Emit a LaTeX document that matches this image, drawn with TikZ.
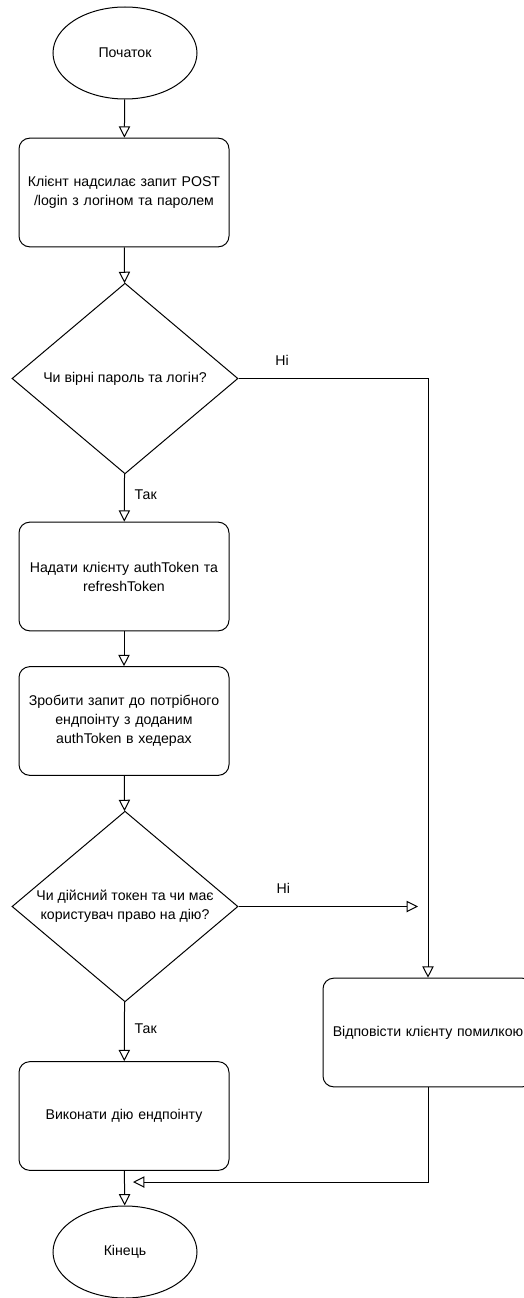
\documentclass[tikz,border=0pt]{standalone}
\usepackage{fontspec}
\setmainfont{Liberation Sans}
\usetikzlibrary{arrows.meta,shapes.geometric}
\begin{document}
\begin{tikzpicture}[x=0.75pt,y=-0.75pt,
  line width=0.75pt,
  every node/.style={font=\fontsize{10.6}{14.2}\selectfont},
  terminal/.style={draw,ellipse,minimum width=108pt,minimum height=69pt,inner sep=0pt},
  process/.style={draw,rounded corners=8pt,minimum width=157.5pt,minimum height=81.5pt,align=center,text width=155pt,inner sep=0pt},
  decision/.style={draw,diamond,minimum width=169.5pt,minimum height=143pt,aspect=1.18,align=center,inner sep=0pt},
  flow/.style={-{Triangle[open,length=8.5pt,width=8.5pt]}},
  lbl/.style={font=\fontsize{10.6}{13}\selectfont}]
  \useasboundingbox (0,0) rectangle (524,1298);
  \clip (0,0) rectangle (524,1298);

  % nodes
  \node[terminal] (start) at (125,53) {Початок};
  \node[process] (login) at (124,192.5) {Клієнт надсилає запит POST\\/login з логіном та паролем};
  \node[decision] (check) at (125,378.5) {Чи вірні пароль та логін?};
  \node[process] (issue) at (124,576.5) {Надати клієнту authToken та\\refreshToken};
  \node[process] (request) at (124,721) {Зробити запит до потрібного\\ендпоінту з доданим\\authToken в хедерах};
  \node[decision] (valid) at (125,906.5) {Чи дійсний токен та чи має\\користувач право на дію?};
  \node[process] (act) at (124,1116) {Виконати дію ендпоінту};
  \node[process] (fail) at (428,1032.5) {Відповісти клієнту помилкою};
  \node[terminal] (end) at (125,1252) {Кінець};

  % free ends of connectors
  \coordinate (noA) at (428,378.5);
  \coordinate (noB) at (418,906.5);
  \coordinate (joinA) at (428,1182);
  \coordinate (joinB) at (133,1182);

  % connectors
  \draw[flow] (start) -- (login);
  \draw[flow] (login) -- (check);
  \draw[flow] (check) -- node[lbl,right,xshift=4pt,yshift=2pt] {Так} (issue);
  \draw[flow] (issue) -- (request);
  \draw[flow] (request) -- (valid);
  \draw[flow] (valid) -- node[lbl,right,xshift=4pt,yshift=2pt] {Так} (act);
  \draw[flow] (act) -- (end);
  \draw[flow] (check.east) -- node[lbl,above,pos=0.23,yshift=6pt] {Ні} (noA) -- (fail.north);
  \draw[flow] (valid.east) -- node[lbl,above,pos=0.25,yshift=6pt] {Ні} (noB);
  \draw[flow] (fail.south) -- (joinA) -- (joinB);
\end{tikzpicture}
\end{document}
